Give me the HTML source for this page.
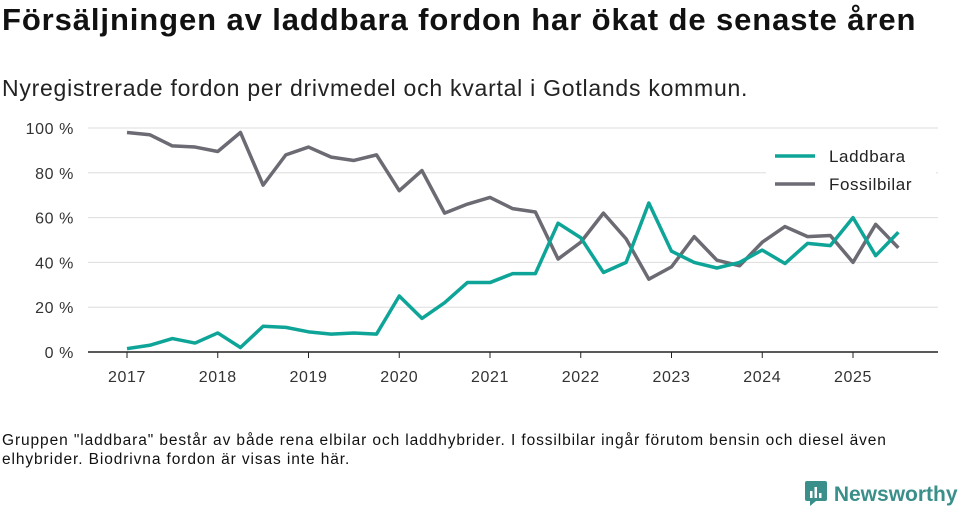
<!DOCTYPE html>
<html><head><meta charset="utf-8"><style>
body{margin:0;width:960px;height:505px;background:#fff;font-family:"Liberation Sans",sans-serif;overflow:hidden;position:relative}
h1{position:absolute;left:2px;top:2px;margin:0;font-size:31px;font-weight:bold;color:#111;letter-spacing:0.9px;white-space:nowrap}
.sub{position:absolute;left:2px;top:75px;font-size:23px;color:#222;letter-spacing:0.75px;white-space:nowrap}
.note{position:absolute;left:2px;top:431px;font-size:15.5px;color:#111;line-height:19px;width:910px;letter-spacing:0.9px}
.logo{position:absolute;left:804px;top:475px;font-size:21px;color:#3a8f8a;font-weight:bold}
svg{position:absolute;left:0;top:0}
</style></head><body>
<h1>Försäljningen av laddbara fordon har ökat de senaste åren</h1>
<div class="sub">Nyregistrerade fordon per drivmedel och kvartal i Gotlands kommun.</div>
<svg id="chart" width="960" height="505"></svg>
<div class="note">Gruppen "laddbara" består av både rena elbilar och laddhybrider. I fossilbilar ingår förutom bensin och diesel även elhybrider. Biodrivna fordon är visas inte här.</div>
<div class="logo"><svg width="24" height="26" style="position:relative;left:0;top:5px;display:inline-block;vertical-align:baseline"><rect x="1" y="1" width="22" height="20" rx="2" fill="#3a8f8a"/><polygon points="6,21 12,21 6,26" fill="#3a8f8a"/><rect x="6" y="11" width="2.5" height="7" fill="#fff"/><rect x="10.5" y="7" width="2.5" height="11" fill="#fff"/><rect x="15" y="13" width="2.5" height="5" fill="#fff"/></svg> Newsworthy</div>
<script>
const yearLabels=["2017","2018","2019","2020","2021","2022","2023","2024","2025"];
const yTicks=[0,20,40,60,80,100];
const laddbara=[1.5,3,6,4,8.5,2,11.5,11,9,8,8.5,8,25,15,22,31,31,35,35,57.5,51,35.5,40,66.5,45,40,37.5,40,45.5,39.5,48.5,47.5,60,43,53.5];
const fossil=[98,97,92,91.5,89.5,98,74.5,88,91.5,87,85.5,88,72,81,62,66,69,64,62.5,41.5,49,62,50.5,32.5,38,51.5,41,38.5,49,56,51.5,52,40,57,46.5];
const NS="http://www.w3.org/2000/svg",svg=document.getElementById('chart');
const x=i=>127+i*90.75/4, y=v=>352-v*2.24;
function el(t,a){const e=document.createElementNS(NS,t);for(const k in a)e.setAttribute(k,a[k]);svg.appendChild(e);return e;}
yTicks.forEach(v=>{
 const g=el('line',{x1:88,x2:938,y1:y(v),y2:y(v),stroke:v?'#ddd':'#222','stroke-width':v?1:1.5});
 
 
 const t=el('text',{x:74,y:y(v)+6,'text-anchor':'end','font-size':16,fill:'#333','font-family':'Liberation Sans','letter-spacing':0.6});
 t.textContent=v+' %';
 
 
});
yearLabels.forEach((l,i)=>{
 const px=x(i*4);
 const tk=el('line',{x1:px,x2:px,y1:352,y2:358,stroke:'#222'});
 
 
 const t=el('text',{x:px,y:382,'text-anchor':'middle','font-size':16,fill:'#333','font-family':'Liberation Sans','letter-spacing':0.6});
 t.textContent=l;
 
 
});
function line(d,c,n){
 const p=el('polyline',{points:d.map((v,i)=>x(i)+','+y(v)).join(' '),fill:'none',stroke:c,'stroke-width':3.5,'stroke-linejoin':'round'});
 
 
}
line(fossil,'#6c6a72','fossilbilar-line');
line(laddbara,'#0ea598','laddbara-line');
[['Laddbara','#0ea598',156],['Fossilbilar','#6c6a72',184]].forEach(([n,c,yy])=>{
 el('rect',{x:766,y:yy-14,width:170,height:26,fill:'#fff'});
 const l=el('line',{x1:775,x2:815,y1:yy,y2:yy,stroke:c,'stroke-width':3.5});
 
 
 const t=el('text',{x:829,y:yy+6,'font-size':17,fill:'#222','font-family':'Liberation Sans','letter-spacing':0.6});
 t.textContent=n;
 
 
});
</script>
</body></html>
